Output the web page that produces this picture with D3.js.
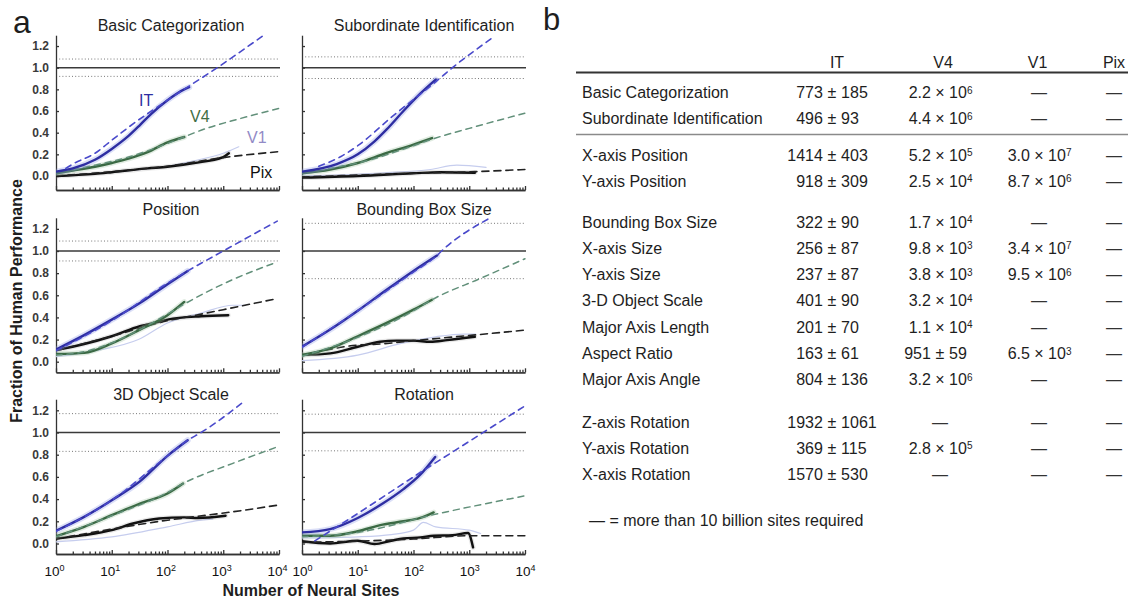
<!DOCTYPE html>
<html>
<head>
<meta charset="utf-8">
<script src="https://cdn.jsdelivr.net/npm/d3@7"></script>
<style>
  html, body { margin: 0; padding: 0; background: #fff; }
  svg { display: block; font-family: "Liberation Sans", Arial, Helvetica, sans-serif; }
</style>
</head>
<body>
<svg id="fig" width="1132" height="600"></svg>
<script>
// ---------------- panel a: performance vs. number of neural sites ----------------
const panelTitles = [
  "Basic Categorization", "Subordinate Identification",
  "Position", "Bounding Box Size",
  "3D Object Scale", "Rotation"
];

// half-width of the human performance band around 1.0 (dotted lines)
const humanBand = [0.08, 0.10, 0.09, 0.25, 0.17, 0.165];

// [number of sites, fraction of human performance]
const itMeasured = [
  [[1, .04], [2, .07], [5, .15], [10, .25], [20, .37], [32, .47], [50, .57], [100, .70], [200, .80], [245, .82]],
  [[1, .04], [4.2, .11], [10, .20], [20, .32], [33, .43], [66, .60], [132, .76], [250, .89]],
  [[1, .11], [3.2, .24], [10, .38], [32, .53], [100, .70], [230, .82]],
  [[1, .135], [3.2, .29], [10, .46], [33, .65], [100, .82], [265, .96]],
  [[1, .115], [3.2, .24], [10, .39], [32, .56], [100, .79], [230, .93]],
  [[1, .10], [3.2, .13], [10, .23], [28, .36], [66, .49], [132, .62], [245, .78]]
];
const itFit = [
  [[1.5, .07], [2, .11], [5, .21], [10, .33], [20, .45], [100, .70], [780, 1.0], [5000, 1.29]],
  [[2, .09], [5, .18], [10, .28], [44, .56], [250, .87], [500, 1.0], [2500, 1.27]],
  [[1, .10], [10, .37], [100, .71], [230, .82], [1000, 1.0], [9300, 1.27]],
  [[1, .13], [10, .46], [100, .81], [265, .96], [320, 1.0], [2200, 1.29]],
  [[1, .11], [10, .39], [100, .79], [230, .93], [400, 1.0], [2500, 1.29]],
  [[1.7, .024], [10, .27], [100, .60], [1000, .92], [10000, 1.24]]
];
const v4Measured = [
  [[1, .025], [2, .05], [5, .085], [10, .12], [20, .16], [44, .22], [100, .31], [200, .36]],
  [[1, .025], [3.2, .06], [10, .12], [32, .21], [100, .29], [215, .35]],
  [[1, .07], [3.2, .08], [10, .165], [32, .29], [100, .42], [200, .54]],
  [[1, .06], [3.2, .12], [10, .23], [33, .35], [100, .47], [215, .56]],
  [[1, .066], [3.2, .15], [10, .255], [32, .36], [100, .45], [190, .54]],
  [[1, .07], [3.2, .07], [10, .11], [28, .17], [66, .20], [132, .23], [230, .28]]
];
const v4Fit = [
  [[2, .06], [5, .10], [10, .135], [20, .175], [100, .30], [500, .44], [2000, .53], [10000, .625]],
  [[3, .07], [10, .12], [100, .28], [215, .34], [1000, .44], [10000, .58]],
  [[1, .06], [3.2, .09], [10, .17], [32, .29], [100, .43], [200, .52], [1450, .74], [9300, .90]],
  [[1, .05], [10, .22], [100, .46], [215, .56], [1550, .75], [10000, .93]],
  [[1, .06], [10, .25], [100, .46], [190, .54], [1450, .72], [9300, .87]],
  [[1, .06], [10, .10], [230, .26], [10000, .43]]
];
const v1Measured = [
  [[1, 0], [10, .035], [100, .09], [300, .14], [1000, .21], [1900, .27]],
  [[1, 0], [30, .03], [200, .06], [600, .10], [2000, .08]],
  [[1, .045], [6, .105], [30, .20], [100, .35], [400, .44], [1500, .51], [2500, .51]],
  [[1, .01], [10, .06], [60, .165], [250, .225], [800, .25], [1300, .25]],
  [[1, .015], [10, .06], [100, .15], [400, .21], [650, .22]],
  [[1, .05], [10, .06], [40, .08], [100, .12], [150, .19], [250, .15], [1000, .12], [1600, .09]]
];
const pixMeasured = [
  [[1, 0], [5, .02], [10, .035], [44, .07], [100, .085], [300, .12], [1000, .175], [1260, .21]],
  [[1, -.015], [10, 0], [100, .025], [300, .035], [1260, .03]],
  [[1, .105], [3.2, .16], [10, .23], [32, .32], [70, .36], [100, .38], [400, .41], [1230, .42]],
  [[1, .06], [3.2, .075], [10, .135], [25, .18], [50, .19], [100, .19], [200, .18], [400, .195], [1260, .225]],
  [[1, .045], [3.2, .075], [10, .12], [24, .18], [71, .225], [200, .235], [350, .23], [1100, .25]],
  [[1, .02], [3.2, 0], [10, .025], [20, -.005], [40, .025], [66, .045], [132, .055], [230, .07], [500, .075], [950, .095], [1170, -.035]]
];
const pixFit = [
  [[1, 0], [10, .04], [100, .09], [1000, .17], [10000, .225]],
  [[1, -.01], [100, .025], [1260, .04], [10000, .06]],
  [[1, .10], [10, .23], [100, .37], [320, .42], [1000, .47], [9300, .57]],
  [[1, .055], [10, .15], [25, .16], [100, .19], [1500, .245], [10000, .285]],
  [[1, .04], [10, .13], [100, .21], [350, .245], [1450, .285], [9300, .345]],
  [[1, .01], [100, .04], [1000, .07], [10000, .07]]
];

const xMajorTicks = [1, 10, 100, 1000, 10000];
const yTickValues = [0, 0.2, 0.4, 0.6, 0.8, 1.0, 1.2];
const seriesNames = ["IT", "V4", "V1", "Pix"];

// ---------------- panel b: sites needed to reach human performance ----------------
const tableColumns = ["IT", "V4", "V1", "Pix"];
const taskNames = [
  "Basic Categorization", "Subordinate Identification",
  "X-axis Position", "Y-axis Position",
  "Bounding Box Size", "X-axis Size", "Y-axis Size", "3-D Object Scale",
  "Major Axis Length", "Aspect Ratio", "Major Axis Angle",
  "Z-axis Rotation", "Y-axis Rotation", "X-axis Rotation"
];
const taskGroup = [0, 0, 1, 1, 2, 2, 2, 2, 2, 2, 2, 3, 3, 3];
const itSites = ["773 ± 185", "496 ± 93", "1414 ± 403", "918 ± 309", "322 ± 90", "256 ± 87", "237 ± 87",
  "401 ± 90", "201 ± 70", "163 ± 61", "804 ± 136", "1932 ± 1061", "369 ± 115", "1570 ± 530"];
const v4Sites = ["2.2 × 10^6", "4.4 × 10^6", "5.2 × 10^5", "2.5 × 10^4", "1.7 × 10^4", "9.8 × 10^3", "3.8 × 10^3",
  "3.2 × 10^4", "1.1 × 10^4", "951 ± 59", "3.2 × 10^6", "—", "2.8 × 10^5", "—"];
const v1Sites = ["—", "—", "3.0 × 10^7", "8.7 × 10^6", "—", "3.4 × 10^7", "9.5 × 10^6",
  "—", "—", "6.5 × 10^3", "—", "—", "—", "—"];
const pixSites = ["—", "—", "—", "—", "—", "—", "—", "—", "—", "—", "—", "—", "—", "—"];
const footnote = "— = more than 10 billion sites required";

// ================= drawing =================
const svg = d3.select("#fig");
const INK = "#1e1e1e";

const cols = [{ x0: 56, x1: 279, titleX: 171 }, { x0: 302, x1: 525, titleX: 424 }];
const rows = [
  { zero: 176, one: 67.7, bottom: 190, titleY: 31 },
  { zero: 361.7, one: 251, bottom: 372.3, titleY: 215 },
  { zero: 543.5, one: 432.5, bottom: 554, titleY: 400 }
];

const style = {
  itLine: "#2e2ea2", itHalo: "#8f9ce6", itFit: "#4a4acb",
  v4Line: "#3b6a44", v4Halo: "#a2c4a6", v4Fit: "#62907a",
  v1Line: "#c6cdee",
  pixLine: "#111", pixHalo: "#9a9a9a", pixFit: "#222"
};

svg.append("text").attr("x", 13).attr("y", 33).attr("font-size", 32).attr("fill", INK).text("a");
svg.append("text").attr("x", 543).attr("y", 30).attr("font-size", 31).attr("fill", INK).text("b");

const defs = svg.append("defs");

panelTitles.forEach((title, i) => {
  const c = cols[i % 2], r = rows[Math.floor(i / 2)];
  const x = d3.scaleLog().domain([1, 1e4]).range([c.x0, c.x1]);
  const y = d3.scaleLinear().domain([0, 1]).range([r.zero, r.one]);
  const yBottom = y.invert(r.bottom);
  y.domain([yBottom, 1.3]).range([r.bottom, r.zero - (r.zero - r.one) * 1.3]);

  const g = svg.append("g").attr("class", "panel");

  defs.append("clipPath").attr("id", "clip" + i)
    .append("rect")
    .attr("x", c.x0).attr("y", y(1.31))
    .attr("width", c.x1 - c.x0 + 2).attr("height", r.bottom - y(1.31));

  // title
  g.append("text").attr("x", c.titleX).attr("y", r.titleY)
    .attr("text-anchor", "middle").attr("font-size", 16).attr("fill", INK).text(title);

  // human performance reference
  g.append("line").attr("x1", c.x0).attr("x2", c.x1 + 1).attr("y1", y(1)).attr("y2", y(1))
    .attr("stroke", "#3a3a3a").attr("stroke-width", 1.4);
  [1 + humanBand[i], 1 - humanBand[i]].forEach(v => {
    g.append("line").attr("x1", c.x0).attr("x2", c.x1).attr("y1", y(v)).attr("y2", y(v))
      .attr("stroke", "#777").attr("stroke-width", 1).attr("stroke-dasharray", "1,2.2");
  });

  // axes
  const yAxis = d3.axisLeft(y).tickValues(yTickValues).tickSize(-3).tickSizeOuter(0).tickPadding(7)
    .tickFormat(i % 2 === 0 ? d3.format(".1f") : () => "");
  const ya = g.append("g").attr("transform", `translate(${c.x0},0)`).call(yAxis);
  ya.selectAll("text").attr("font-size", 12).attr("font-weight", "bold").attr("fill", "#3a3a3a");

  const minorTicks = [];
  for (let e = 0; e < 4; e++) for (let m = 2; m < 10; m++) minorTicks.push(m * Math.pow(10, e));
  const xMinor = d3.axisBottom(x).tickValues(minorTicks).tickSize(-2.5).tickSizeOuter(0).tickFormat(() => "");
  g.append("g").attr("transform", `translate(0,${r.bottom})`).call(xMinor);
  const xMajor = d3.axisBottom(x).tickValues(xMajorTicks).tickSize(-4).tickSizeOuter(0).tickPadding(12)
    .tickFormat(() => "");
  const xa = g.append("g").attr("transform", `translate(0,${r.bottom})`).call(xMajor);
  if (Math.floor(i / 2) === 2) {
    xa.selectAll(".tick text").each(function (d) {
      const t = d3.select(this).attr("font-size", 13.5).attr("fill", "#111").attr("dx", i % 2 === 0 ? "-2" : "0");
      t.append("tspan").text("10");
      t.append("tspan").attr("dy", "-0.55em").attr("font-size", 9).text(Math.round(Math.log10(d)));
    });
  }
  g.selectAll(".domain, .tick line").attr("stroke", "#333").attr("stroke-width", 1.3);

  // curves
  const line = d3.line().x(d => x(d[0])).y(d => y(d[1])).curve(d3.curveMonotoneX);
  const plot = g.append("g").attr("clip-path", `url(#clip${i})`);
  const draw = (data, color, width, opts = {}) => plot.append("path")
    .attr("d", line(data)).attr("fill", "none").attr("stroke", color)
    .attr("stroke-width", width).attr("stroke-linecap", "round")
    .attr("stroke-opacity", opts.opacity ?? 1)
    .attr("stroke-dasharray", opts.dash ?? null);

  draw(v1Measured[i], style.v1Line, 1.2);
  draw(pixMeasured[i], style.pixHalo, 5, { opacity: 0.22 });
  draw(pixMeasured[i], style.pixLine, 2.4);
  draw(pixFit[i], style.pixFit, 1.6, { dash: "7,5" });
  draw(v4Measured[i], style.v4Halo, 5.5, { opacity: 0.32 });
  draw(v4Measured[i], style.v4Line, 2.4);
  draw(v4Fit[i], style.v4Fit, 1.5, { dash: "6,5" });
  draw(itMeasured[i], style.itHalo, 6, { opacity: 0.32 });
  draw(itMeasured[i], style.itLine, 2.4);
  draw(itFit[i], style.itFit, 1.6, { dash: "6,5" });

  // series names in the first panel
  if (i === 0) {
    const labelSpots = [[139, 106, style.itLine], [190, 122, "#3f6e45"], [247, 143, "#928ac6"], [250, 178, "#111"]];
    seriesNames.forEach((s, k) => {
      g.append("text").attr("x", labelSpots[k][0]).attr("y", labelSpots[k][1])
        .attr("font-size", 16).attr("fill", labelSpots[k][2]).text(s);
    });
  }
});

// shared axis titles
svg.append("text").attr("transform", "translate(22,301) rotate(-90)")
  .attr("text-anchor", "middle").attr("font-size", 16).attr("font-weight", "bold").attr("fill", INK)
  .text("Fraction of Human Performance");
svg.append("text").attr("x", 311).attr("y", 596)
  .attr("text-anchor", "middle").attr("font-size", 16).attr("font-weight", "bold").attr("fill", INK)
  .text("Number of Neural Sites");

// ---------------- table ----------------
const tb = svg.append("g").attr("font-size", 16).attr("fill", INK);
const labelX = 582;
const headerX = [837, 943, 1037.5, 1114];
const alignX = [832, 940, 1039, 1114];
const colValues = [itSites, v4Sites, v1Sites, pixSites];
const rowStep = 26.3, groupShift = [0, 10, 24.3, 40.2];
const rowY = taskNames.map((_, k) => 98 + rowStep * k + groupShift[taskGroup[k]]);

tableColumns.forEach((h, k) => {
  tb.append("text").attr("x", headerX[k]).attr("y", 68).attr("text-anchor", "middle").text(h);
});
tb.append("line").attr("x1", 576).attr("x2", 1128).attr("y1", 72.5).attr("y2", 72.5)
  .attr("stroke", "#333").attr("stroke-width", 2);
tb.append("line").attr("x1", 576).attr("x2", 1128).attr("y1", 134.5).attr("y2", 134.5)
  .attr("stroke", "#8a8a8a").attr("stroke-width", 1.5);

function cell(str, cx, cy) {
  if (str === "—") {
    tb.append("text").attr("x", cx).attr("y", cy).attr("text-anchor", "middle").attr("fill", "#333").text("—");
    return;
  }
  const sym = str.includes("±") ? "±" : "×";
  const [left, right] = str.split(` ${sym} `);
  const gap = 9.1;
  tb.append("text").attr("x", cx - gap).attr("y", cy).attr("text-anchor", "end").text(left);
  tb.append("text").attr("x", cx).attr("y", cy).attr("text-anchor", "middle").text(sym);
  const t = tb.append("text").attr("x", cx + gap).attr("y", cy).attr("text-anchor", "start");
  if (right.includes("^")) {
    const [base, exp] = right.split("^");
    t.append("tspan").text(base);
    t.append("tspan").attr("dy", "-0.45em").attr("font-size", 10).text(exp);
  } else {
    t.text(right);
  }
}

taskNames.forEach((name, k) => {
  tb.append("text").attr("x", labelX).attr("y", rowY[k]).text(name);
  colValues.forEach((vals, c) => cell(vals[k], alignX[c], rowY[k]));
});

tb.append("text").attr("x", 589).attr("y", 526).text(footnote);
</script>
</body>
</html>
